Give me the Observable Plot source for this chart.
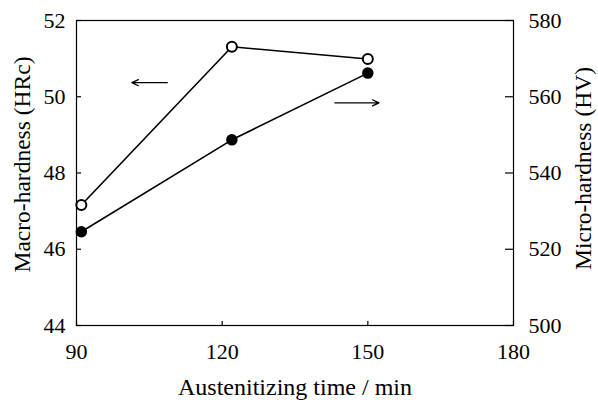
<!DOCTYPE html>
<html>
<head>
<meta charset="utf-8">
<script src="https://cdn.jsdelivr.net/npm/d3@7"></script>
<script src="https://cdn.jsdelivr.net/npm/@observablehq/plot@0.6"></script>
<style>
  html, body { margin: 0; padding: 0; background: #fff; }
  #chart svg { display: block; }
</style>
</head>
<body>
<div id="chart"></div>
<script>
// Data
const times = [91, 122, 150];                 // Austenitizing time / min
const macroHRc = [47.16, 51.31, 50.99];       // left axis (open circles)
const microHV = [524.6, 548.7, 566.2];        // right axis (filled circles)
const xTicks = [90, 120, 150, 180];
const leftTicks = [44, 46, 48, 50, 52];
const rightTicks = [500, 520, 540, 560, 580];
// arrows showing which axis each series belongs to (data units, left axis)
const arrows = [
  {x1: 108.7, x2: 101.4, y: 50.37},
  {x1: 143.2, x2: 152.3, y: 49.84}
];

// right axis (HV) mapped onto left axis (HRc) units
const hv2hrc = v => 44 + (v - 500) / 10;

const macro = times.map((t, i) => ({t, v: macroHRc[i]}));
const micro = times.map((t, i) => ({t, v: hv2hrc(microHV[i])}));

const W = 598, H = 402;
const mL = 76, mR = 85, mT = 20, mB = 77;
const pw = W - mL - mR, ph = H - mT - mB;
const font = "Liberation Serif";

const chart = Plot.plot({
  width: W,
  height: H,
  marginLeft: mL,
  marginRight: mR,
  marginTop: mT,
  marginBottom: mB,
  style: {fontFamily: font, fontSize: "22px", color: "#000", background: "#fff"},
  x: {domain: [90, 180]},
  y: {domain: [44, 52]},
  marks: [
    Plot.frame({stroke: "#000", strokeWidth: 1.2}),
    // inward tick marks
    Plot.tickY(leftTicks, {y: d => d, insetRight: pw - 5, stroke: "#000", strokeWidth: 1.2}),
    Plot.tickY(rightTicks, {y: d => hv2hrc(d), insetLeft: pw - 8, stroke: "#000", strokeWidth: 1.2}),
    Plot.tickX(xTicks, {x: d => d, insetTop: ph - 4, stroke: "#000", strokeWidth: 1.2}),
    // tick labels
    Plot.axisY({anchor: "left", ticks: leftTicks, tickSize: 0, tickPadding: 11, label: null, fontSize: 22, fontFamily: font}),
    Plot.axisY({anchor: "right", ticks: rightTicks.map(hv2hrc), tickSize: 0, tickPadding: 15,
      tickFormat: d => String(Math.round(500 + (d - 44) * 10)), label: null, fontSize: 22, fontFamily: font}),
    Plot.axisX({ticks: xTicks, tickSize: 0, tickPadding: 18, label: null, fontSize: 22, fontFamily: font}),
    // axis titles
    Plot.text(["Austenitizing time / min"], {frameAnchor: "bottom", dy: 62, fontSize: 24, lineAnchor: "middle", fontFamily: font}),
    Plot.text(["Macro-hardness (HRc)"], {frameAnchor: "left", textAnchor: "middle", dx: -54, dy: -8.5, rotate: -90, fontSize: 23.5, fontFamily: font}),
    Plot.text(["Micro-hardness (HV)"], {frameAnchor: "right", textAnchor: "middle", dx: 70, dy: -4.5, rotate: -90, fontSize: 23.5, fontFamily: font}),
    // series
    Plot.line(macro, {x: "t", y: "v", stroke: "#000", strokeWidth: 1.6}),
    Plot.line(micro, {x: "t", y: "v", stroke: "#000", strokeWidth: 1.6}),
    Plot.dot(micro, {x: "t", y: "v", r: 5, fill: "#000", stroke: "#000"}),
    Plot.dot(macro, {x: "t", y: "v", r: 5, fill: "#fff", stroke: "#000", strokeWidth: 2}),
    // arrows
    Plot.arrow(arrows, {x1: "x1", y1: "y", x2: "x2", y2: "y", stroke: "#000", strokeWidth: 1.2, headLength: 9, headAngle: 50})
  ]
});

d3.select(chart).selectAll("text, g").style("font-family", "'Liberation Serif', serif");
document.getElementById("chart").appendChild(chart);
</script>
</body>
</html>
